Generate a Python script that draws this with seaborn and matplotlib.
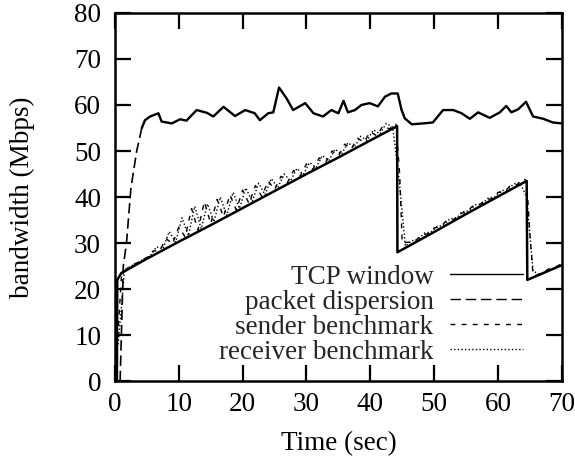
import matplotlib
matplotlib.use("Agg")
import matplotlib.pyplot as plt
from matplotlib.lines import Line2D
import seaborn as sns
import pandas as pd

# ---- data ----
# TCP window (solid sawtooth)
tcp_t = [0, 0.3, 0.35, 1.0, 5, 10, 15, 20, 25, 30, 35, 40, 44.2, 44.25,
         50, 55, 60, 64.5, 64.6, 70]
tcp_bw = [0, 0, 22, 23.5, 26.6, 30.3, 33.9, 37.6, 41.3, 45.0, 48.6, 52.3, 55.4, 28,
          32.4, 36.3, 40.1, 43.5, 22, 25.2]

# packet dispersion (the ~57 Mbps line)
pd_t = [0.8, 1.3, 1.8, 2.5, 3.4, 4.2, 4.7, 5.5, 6.8, 7.3, 8.9, 10.2, 11.2, 12.8,
        14.4, 15.4, 17.0, 18.8, 20.4, 21.9, 22.7, 24.0, 24.8, 25.7, 26.9, 27.9,
        29.8, 31.1, 32.6, 33.9, 35.0, 35.8, 36.5, 37.6, 38.6, 39.9, 41.2, 42.3,
        43.3, 44.3, 44.9, 45.4, 46.5, 48.3, 49.8, 51.4, 53.0, 54.3, 55.6, 56.9,
        58.7, 60.3, 61.3, 62.1, 63.2, 64.4, 65.5, 67.1, 68.6, 70.0]
pd_bw = [0, 25, 30, 42, 50, 55, 56.7, 57.5, 58.2, 56.4, 56.0, 56.9, 56.6, 58.9,
         58.3, 57.5, 59.6, 57.6, 58.9, 58.2, 56.7, 58.2, 58.4, 63.8, 61.4, 58.9,
         60.4, 58.2, 57.5, 58.9, 58.2, 60.9, 58.4, 58.9, 60.0, 60.4, 59.7, 61.8,
         62.5, 62.5, 58.9, 57.1, 55.8, 56.0, 56.2, 58.9, 58.9, 58.2, 57.0, 58.4,
         57.2, 58.4, 59.8, 58.4, 59.1, 60.7, 57.5, 57.0, 56.2, 56.0]
pd_ramp_end = 5  # index where the plateau begins

# sender benchmark
snd_t = [0, 1, 2, 3, 4, 5, 6, 7, 8, 9, 10, 11, 12, 13, 14, 15, 16, 17, 18, 19,
         20, 21, 22, 23, 24, 25, 26, 27, 28, 29, 30, 31, 32, 33, 34, 35, 36, 37,
         38, 39, 40, 41, 42, 43, 44, 44.6, 45, 46, 47, 48, 49, 50, 51, 52, 53, 54,
         55, 56, 57, 58, 59, 60, 61, 62, 63, 64, 64.5, 65, 65.5, 66, 67, 68, 69, 70]
snd_bw = [0, 22.5, 24.6, 25.4, 26.1, 26.9, 28.3, 28.3, 31.0, 29.8, 33.5, 31.3,
          37.5, 32.8, 39.0, 34.2, 39.5, 35.7, 40.5, 37.2, 41.5, 38.6, 42.5, 40.1,
          43.5, 41.6, 44.5, 43.1, 45.8, 44.5, 47.2, 46.0, 48.5, 47.5, 50.0, 48.9,
          51.5, 50.4, 52.8, 51.9, 54.2, 53.3, 55.5, 54.8, 56.0, 45.0, 30.0, 30.2,
          30.4, 31.8, 32.0, 33.3, 33.5, 35.0, 35.0, 36.5, 36.6, 38.0, 38.1, 39.5,
          39.6, 41.0, 41.1, 42.6, 42.7, 44.0, 43.5, 32.0, 23.0, 23.0, 23.6, 24.4,
          24.8, 25.5]

# receiver benchmark
rcv_t = [0.5, 1.5, 2.5, 3.5, 4.5, 5.5, 6.5, 7.5, 8.5, 9.5, 10.5, 11.5, 12.5,
         13.5, 14.5, 15.5, 16.5, 17.5, 18.5, 19.5, 20.5, 21.5, 22.5, 23.5, 24.5,
         25.5, 26.5, 27.5, 28.5, 29.5, 30.5, 31.5, 32.5, 33.5, 34.5, 35.5, 36.5,
         37.5, 38.5, 39.5, 40.5, 41.5, 42.5, 43.5, 44.5, 45.5, 46.5, 47.5, 48.5,
         49.5, 50.5, 51.5, 52.5, 53.5, 54.5, 55.5, 56.5, 57.5, 58.5, 59.5, 60.5,
         61.5, 62.5, 63.5, 64.5, 65.5, 66.5, 67.5, 68.5, 69.5]
rcv_bw = [8.0, 24.2, 25.0, 25.7, 26.5, 27.2, 29.2, 28.7, 32.5, 30.2, 35.5, 31.6,
          38.0, 33.1, 38.5, 34.6, 40.0, 36.0, 41.0, 37.5, 42.0, 39.0, 43.0, 40.5,
          44.0, 42.0, 45.0, 43.5, 46.2, 44.9, 47.5, 46.4, 49.0, 47.9, 50.4, 49.3,
          51.8, 50.8, 53.2, 52.3, 54.6, 53.7, 56.0, 55.2, 44.0, 29.3, 30.5, 30.8,
          32.2, 32.4, 33.6, 33.9, 35.3, 35.4, 36.8, 37.0, 38.3, 38.5, 39.8, 40.0,
          41.4, 41.5, 42.9, 43.0, 40.0, 24.0, 23.1, 23.8, 24.3, 25.0]

labels = ["TCP window", "packet dispersion", "sender benchmark", "receiver benchmark"]
x_ticks = [0, 10, 20, 30, 40, 50, 60, 70]
y_ticks = [0, 10, 20, 30, 40, 50, 60, 70, 80]

# ---- style ----
sns.set_theme(style="ticks")
plt.rcParams["font.family"] = ["Liberation Serif", "DejaVu Serif"]
plt.rcParams["lines.scale_dashes"] = False
FS = 19.5

fig = plt.figure(figsize=(5.75, 4.62), dpi=100)
ax = fig.add_axes([0.2, 0.175, 0.777, 0.797])

ls_pd = (0, (7.5, 3.5))
ls_snd = (0, (3.5, 4.5))
ls_rcv = (0, (1.0, 1.6))

kw = dict(ax=ax, color="black", estimator=None, sort=False, legend=False)

df_rcv = pd.DataFrame({"t": rcv_t, "bw": rcv_bw})
df_snd = pd.DataFrame({"t": snd_t, "bw": snd_bw})
df_tcp = pd.DataFrame({"t": tcp_t, "bw": tcp_bw})
df_pd = pd.DataFrame({"t": pd_t, "bw": pd_bw})

sns.lineplot(data=df_rcv, x="t", y="bw", lw=1.0, linestyle=ls_rcv, **kw)
sns.lineplot(data=df_snd, x="t", y="bw", lw=1.0, linestyle=ls_snd, **kw)
sns.lineplot(data=df_tcp, x="t", y="bw", lw=1.8, linestyle="-", **kw)
sns.lineplot(data=df_pd.iloc[:pd_ramp_end + 1], x="t", y="bw", lw=1.2,
             linestyle=ls_pd, **kw)
sns.lineplot(data=df_pd.iloc[pd_ramp_end:], x="t", y="bw", lw=1.7,
             linestyle="-", **kw)

ax.set_xlim(0, 70)
ax.set_ylim(0, 80)
ax.set_xticks(x_ticks)
ax.set_yticks(y_ticks)
ax.tick_params(axis="both", direction="in", length=11.5, width=1.6,
               top=True, right=True, labelsize=FS, colors="black")
ax.tick_params(axis="x", pad=8)
ax.tick_params(axis="y", pad=10)
for s in ax.spines.values():
    s.set_linewidth(1.8)
    s.set_color("black")
    s.set_visible(True)

ax.set_xlabel("Time (sec)", fontsize=FS, color="black")
ax.set_ylabel("bandwidth (Mbps)", fontsize=FS, color="black")
ax.xaxis.set_label_coords(0.5, -0.135)
ax.yaxis.set_label_coords(-0.178, 0.5)

handles = [
    Line2D([], [], color="black", lw=1.0, linestyle="-"),
    Line2D([], [], color="black", lw=1.0, linestyle=ls_pd),
    Line2D([], [], color="black", lw=1.0, linestyle=ls_snd),
    Line2D([], [], color="black", lw=1.0, linestyle=ls_rcv),
]
ax.legend(handles, labels, loc="lower right", bbox_to_anchor=(0.913, 0.045),
          frameon=False, markerfirst=False, fontsize=FS, handlelength=2.7,
          handletextpad=0.6, labelspacing=0.0, borderpad=0, borderaxespad=0)

fig.savefig("out.png", dpi=100)
